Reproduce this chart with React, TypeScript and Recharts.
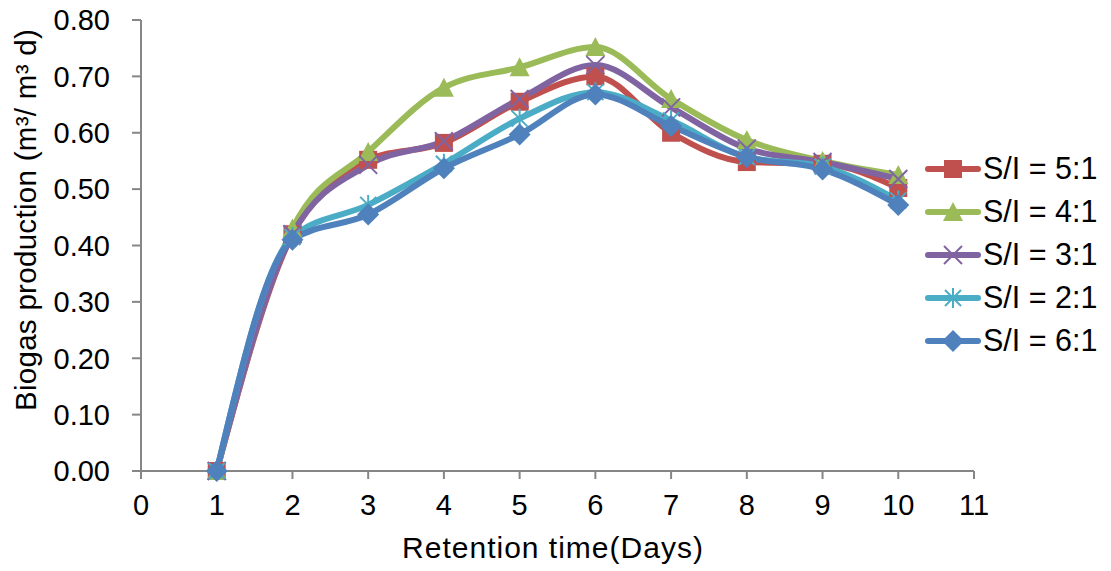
import React from "react";
import { LineChart, Line, XAxis, YAxis, Label } from "recharts";

const days = [1, 2, 3, 4, 5, 6, 7, 8, 9, 10];
const si51 = [0, 0.42, 0.552, 0.582, 0.655, 0.7, 0.6, 0.548, 0.545, 0.502];
const si41 = [0, 0.43, 0.566, 0.68, 0.716, 0.752, 0.66, 0.587, 0.55, 0.525];
const si31 = [0, 0.42, 0.543, 0.585, 0.66, 0.72, 0.645, 0.572, 0.548, 0.518];
const si21 = [0, 0.415, 0.472, 0.545, 0.625, 0.672, 0.622, 0.557, 0.54, 0.48];
const si61 = [0, 0.41, 0.455, 0.537, 0.597, 0.668, 0.612, 0.557, 0.535, 0.472];

const xTicks = [0, 1, 2, 3, 4, 5, 6, 7, 8, 9, 10, 11];
const yTicks = [0, 0.1, 0.2, 0.3, 0.4, 0.5, 0.6, 0.7, 0.8];

const FONT = "'Liberation Sans', Arial, sans-serif";
const AXIS = "#868686";

type Shape = "square" | "triangle" | "x" | "star" | "diamond";

const series: { key: string; name: string; color: string; shape: Shape }[] = [
  { key: "s51", name: "S/I = 5:1", color: "#C0504D", shape: "square" },
  { key: "s41", name: "S/I = 4:1", color: "#9BBB59", shape: "triangle" },
  { key: "s31", name: "S/I = 3:1", color: "#8064A2", shape: "x" },
  { key: "s21", name: "S/I = 2:1", color: "#4BACC6", shape: "star" },
  { key: "s61", name: "S/I = 6:1", color: "#4F81BD", shape: "diamond" },
];

const data = days.map((d, i) => ({
  day: d,
  s51: si51[i],
  s41: si41[i],
  s31: si31[i],
  s21: si21[i],
  s61: si61[i],
}));

const Marker = ({ cx, cy, shape, color }: { cx: number; cy: number; shape: Shape; color: string }) => {
  if (cx == null || cy == null) return null;
  switch (shape) {
    case "square":
      return <rect x={cx - 9} y={cy - 9} width={18} height={18} fill={color} />;
    case "triangle":
      return <polygon points={`${cx},${cy - 10} ${cx + 10},${cy + 9} ${cx - 10},${cy + 9}`} fill={color} />;
    case "x":
      return (
        <g stroke={color} strokeWidth={2}>
          <line x1={cx - 9} y1={cy - 9} x2={cx + 9} y2={cy + 9} />
          <line x1={cx - 9} y1={cy + 9} x2={cx + 9} y2={cy - 9} />
        </g>
      );
    case "star":
      return (
        <g stroke={color} strokeWidth={2}>
          <line x1={cx - 8} y1={cy - 8} x2={cx + 8} y2={cy + 8} />
          <line x1={cx - 8} y1={cy + 8} x2={cx + 8} y2={cy - 8} />
          <line x1={cx} y1={cy - 10} x2={cx} y2={cy + 10} />
        </g>
      );
    default:
      return <polygon points={`${cx},${cy - 11} ${cx + 11},${cy} ${cx},${cy + 11} ${cx - 11},${cy}`} fill={color} />;
  }
};

const tickStyle = { fill: "#000", fontSize: 29, fontFamily: FONT };

export default function App() {
  return (
    <div style={{ position: "absolute", left: 0, top: 0, width: 1111, height: 571, background: "#fff" }}>
      <LineChart width={1111} height={571} data={data} margin={{ top: 20, right: 137, bottom: 0, left: 0 }}>
        <XAxis
          dataKey="day"
          type="number"
          domain={[0, 11]}
          ticks={xTicks}
          interval={0}
          height={100}
          tick={tickStyle}
          tickSize={8}
          tickMargin={15}
          stroke={AXIS}
          axisLine={{ stroke: AXIS, strokeWidth: 2 }}
          tickLine={{ stroke: AXIS, strokeWidth: 2 }}
        >
          <Label
            content={() => (
              <text
                x={553}
                y={558}
                textAnchor="middle"
                fontFamily={FONT}
                fontSize={30}
                letterSpacing={1}
                fill="#000"
              >
                Retention time(Days)
              </text>
            )}
          />
        </XAxis>
        <YAxis
          type="number"
          domain={[0, 0.8]}
          ticks={yTicks}
          interval={0}
          width={141}
          tick={tickStyle}
          tickSize={9}
          tickMargin={22}
          tickFormatter={(v: number) => v.toFixed(2)}
          stroke={AXIS}
          axisLine={{ stroke: AXIS, strokeWidth: 2 }}
          tickLine={{ stroke: AXIS, strokeWidth: 2 }}
        >
          <Label
            content={() => (
              <text
                x={36}
                y={220}
                textAnchor="middle"
                transform="rotate(-90 36 220)"
                fontFamily={FONT}
                fontSize={29.5}
                letterSpacing={0.3}
                fill="#000"
              >
                Biogas production (m³/ m³ d)
              </text>
            )}
          />
        </YAxis>
        {series.map((s) => (
          <Line
            key={s.key}
            type="monotone"
            dataKey={s.key}
            name={s.name}
            stroke={s.color}
            strokeWidth={6}
            isAnimationActive={false}
            dot={(p: any) => <Marker key={`${s.key}-${p.index}`} cx={p.cx} cy={p.cy} shape={s.shape} color={s.color} />}
            activeDot={false}
          />
        ))}
      </LineChart>
      <div style={{ position: "absolute", left: 925, top: 147 }}>
        {series.map((s) => (
          <div key={s.key} style={{ display: "flex", alignItems: "center", height: 43 }}>
            <svg width={56} height={30}>
              <line x1={3} y1={15} x2={53} y2={15} stroke={s.color} strokeWidth={6} strokeLinecap="round" />
              <Marker cx={28} cy={15} shape={s.shape} color={s.color} />
            </svg>
            <span style={{ fontFamily: FONT, fontSize: 30.5, color: "#000", marginLeft: 2, whiteSpace: "nowrap" }}>
              {s.name}
            </span>
          </div>
        ))}
      </div>
    </div>
  );
}
